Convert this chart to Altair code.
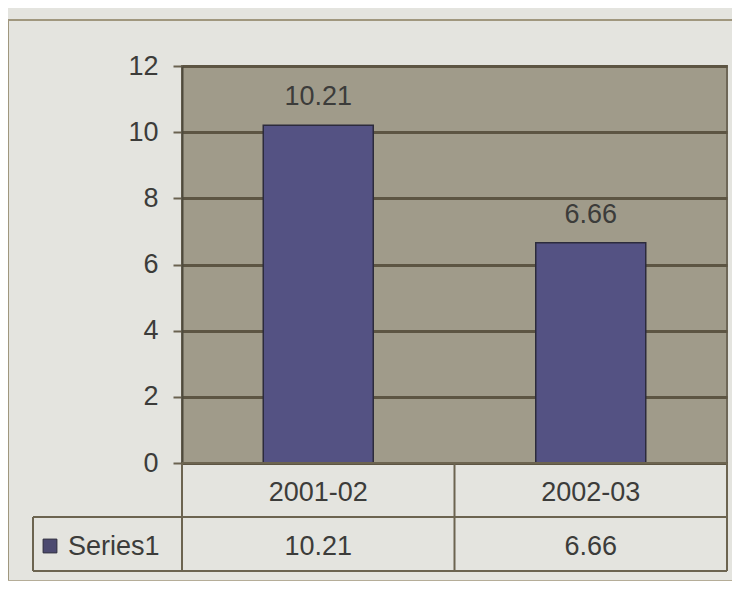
import altair as alt
import pandas as pd

categories = ["2001-02", "2002-03"]
values = [10.21, 6.66]
series_name = "Series1"
y_ticks = [0, 2, 4, 6, 8, 10, 12]

df = pd.DataFrame({"cat": categories, "val": values, "label": [f"{v:.2f}" for v in values]})
W, H = 545, 397
ROW = 54
FONT = "Liberation Sans"
FS = 27
LINE = "#6c6450"
TXT = "#3c3c3a"
BAR = "#545283"

xenc = alt.X("cat:N", sort=categories, axis=None,
             scale=alt.Scale(paddingInner=0, paddingOuter=0))

bars = alt.Chart(df).mark_bar(size=110, color=BAR, stroke="#2c2b3c", strokeWidth=1.5).encode(
    x=xenc,
    y=alt.Y("val:Q", scale=alt.Scale(domain=[0, 12], nice=False),
            axis=alt.Axis(values=y_ticks, title=None, grid=True, gridColor="#5d5543", gridWidth=3,
                          domainColor="#4e4a3c", domainWidth=2, tickColor="#6a6250", tickSize=9,
                          tickWidth=2, labelFontSize=FS, labelColor=TXT, labelFont=FONT,
                          labelPadding=15)),
)

bar_labels = alt.Chart(df).mark_text(dy=-20, baseline="alphabetic", fontSize=FS, font=FONT, color=TXT).encode(
    x=xenc, y=alt.Y("val:Q"), text="label:N"
)

cat_text = alt.Chart(df).mark_text(fontSize=FS, font=FONT, color=TXT, baseline="alphabetic").encode(
    x=xenc, y=alt.value(H + ROW / 2 + 11), text="cat:N"
)
val_text = alt.Chart(df).mark_text(fontSize=FS, font=FONT, color=TXT, baseline="alphabetic").encode(
    x=xenc, y=alt.value(H + ROW * 1.5 + 11), text="label:N"
)

one = pd.DataFrame({"s": [series_name]})


def hrule(y, x0, x1, color=LINE):
    return alt.Chart(one).mark_rule(color=color, strokeWidth=2).encode(
        x=alt.value(x0), x2=alt.value(x1), y=alt.value(y))


def vrule(x, y0, y1, color=LINE):
    return alt.Chart(one).mark_rule(color=color, strokeWidth=2).encode(
        x=alt.value(x), y=alt.value(y0), y2=alt.value(y1))


series_text = alt.Chart(one).mark_text(
    fontSize=FS, font=FONT, color=TXT, align="left", baseline="alphabetic").encode(
    x=alt.value(-114), y=alt.value(H + ROW * 1.5 + 11), text="s:N"
)
legend_key = alt.Chart(one).mark_square(
    size=190, color="#4c4a70", stroke="#2c2b3c", strokeWidth=1, opacity=1).encode(
    x=alt.value(-132), y=alt.value(H + ROW * 1.5 + 2)
)
FRAME = "#a0977e"

chart = alt.layer(
    bars, bar_labels,
    hrule(H, 0, W), hrule(H + ROW, -149, W), hrule(H + 2 * ROW, -149, W),
    vrule(0, H, H + 2 * ROW), vrule(W, H, H + 2 * ROW), vrule(-149, H + ROW, H + 2 * ROW),
    vrule(W / 2, H, H + 2 * ROW),
    cat_text, val_text, series_text, legend_key,
    hrule(-46, -174, W + 20, FRAME), vrule(-174, -46, H + 120, FRAME),
    hrule(H + 2 * ROW + 10, -174, W + 20, "#b5ad98"),
).properties(
    width=W, height=H, background="#e4e4df",
    autosize=alt.AutoSizeParams(type="none"),
    padding={"left": 174, "top": 58, "right": 5, "bottom": 118},
).configure_view(fill="#a09b8a", stroke="#6e6757", strokeWidth=2)

chart.save("out.html", embed_options={"renderer": "svg", "actions": False})
